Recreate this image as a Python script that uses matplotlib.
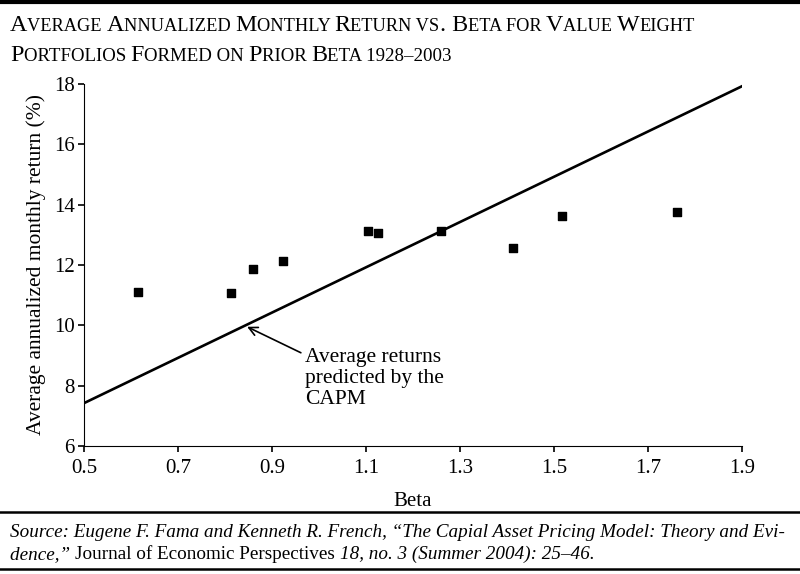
import matplotlib
matplotlib.use("Agg")
import matplotlib.pyplot as plt
from matplotlib.lines import Line2D

plt.rcParams['font.family'] = ['Liberation Serif', 'DejaVu Serif']

# portfolio betas and average annualized monthly returns (%)
beta = [0.615, 0.813, 0.860, 0.923, 1.104, 1.126, 1.260, 1.413, 1.517, 1.762]
avg_ret = [11.10, 11.07, 11.87, 12.13, 13.13, 13.06, 13.13, 12.56, 13.62, 13.76]

# CAPM predicted line end points
capm_beta = [0.5, 1.9]
capm_ret = [7.42, 17.92]

xticks = [0.5, 0.7, 0.9, 1.1, 1.3, 1.5, 1.7, 1.9]
yticks = [6, 8, 10, 12, 14, 16, 18]

fig = plt.figure(figsize=(8, 5.74), dpi=100)
ax = fig.add_axes([0.105, 0.223, 0.8225, 0.631])

ax.plot(capm_beta, capm_ret, color='black', linewidth=1.9)
ax.scatter(beta, avg_ret, marker='s', s=40, color='black', zorder=3)

ax.set_xlim(0.5, 1.9)
ax.set_ylim(6, 18)
ax.set_xticks(xticks)
ax.set_xticklabels([f"{t:.1f}" for t in xticks])
ax.set_yticks(yticks)
ax.spines['top'].set_visible(False)
ax.spines['right'].set_visible(False)
ax.tick_params(labelsize=15, direction='out', length=4.5, width=1.2)
ax.tick_params(axis='x', pad=5)
ax.tick_params(axis='y', pad=2)
ax.set_xlabel("Beta", fontsize=15, labelpad=10)
ax.set_ylabel("Average annualized monthly return (%)", fontsize=15.5, labelpad=6)

ax.annotate("Average returns\npredicted by the\nCAPM", xy=(0.847, 9.95), xytext=(0.97, 9.25),
            fontsize=15.5, va='top', ha='left', linespacing=1.15,
            arrowprops=dict(arrowstyle='->', color='black', lw=1.2, shrinkA=1, shrinkB=0,
                            relpos=(-0.01, 0.9)))

renderer = fig.canvas.get_renderer()
W = fig.get_figwidth() * fig.dpi
H = fig.get_figheight() * fig.dpi


def draw_runs(runs, x0, ybase):
    # runs: list of (text, size, style); placed left to right on one baseline
    x = x0
    for txt, size, style in runs:
        t = fig.text(x / W, 1 - ybase / H, txt, fontsize=size, style=style,
                     va='baseline', ha='left')
        x += t.get_window_extent(renderer).width
    return x


def small_caps(s, big, small):
    # lowercase letters and digits drawn as smaller capitals
    runs = []
    cur = ""
    cur_small = None
    for ch in s:
        is_small = ch.islower() or ch.isdigit() or ch == '\u2013'
        if cur_small is None or is_small == cur_small or ch == ' ':
            cur += ch.upper()
            if cur_small is None:
                cur_small = is_small
        else:
            runs.append((cur, small if cur_small else big, 'normal'))
            cur = ch.upper()
            cur_small = is_small
    runs.append((cur, small if cur_small else big, 'normal'))
    return runs


draw_runs(small_caps("Average Annualized Monthly Return vs. Beta for Value Weight", 17.3, 13.2), 10, 31)
draw_runs(small_caps("Portfolios Formed on Prior Beta 1928\u20132003", 17.3, 13.6), 10, 61)

draw_runs([("Source: Eugene F. Fama and Kenneth R. French, \u201cThe Capial Asset Pricing Model: Theory and Evi-",
            13.75, 'italic')], 10, 537)
draw_runs([("dence,\u201d ", 13.75, 'italic'), ("Journal of Economic Perspectives ", 13.75, 'normal'),
           ("18, no. 3 (Summer 2004): 25\u201346.", 13.75, 'italic')], 10, 559)

for yp, lw in [(2, 3), (512, 1.8), (569, 1.8)]:
    fig.add_artist(Line2D([0, 1], [1 - yp / H, 1 - yp / H], color='black', linewidth=lw,
                          transform=fig.transFigure))

fig.savefig("out.png", dpi=100)
